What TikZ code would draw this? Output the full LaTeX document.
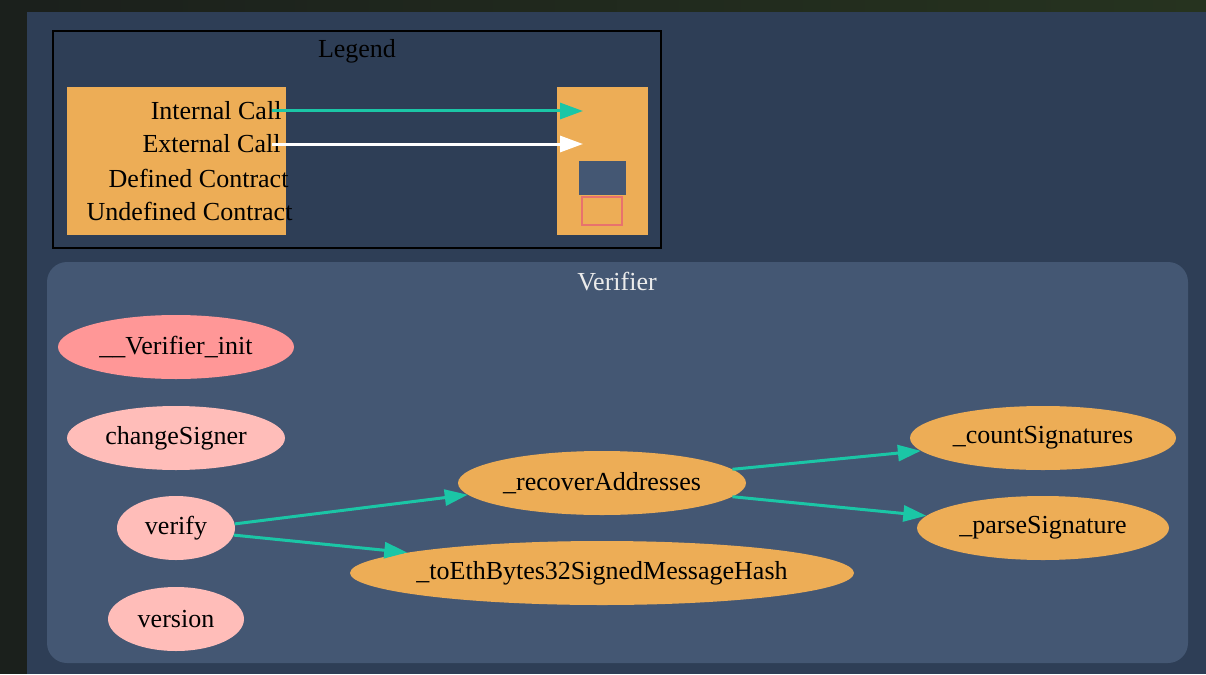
\documentclass[tikz,border=0pt]{standalone}
\usepackage{fontspec}
\setmainfont{Liberation Serif}
\usetikzlibrary{arrows.meta,shapes.geometric}

\definecolor{bgdark}{HTML}{1B201C}
\definecolor{bgtop}{HTML}{26331F}
\definecolor{bgmain}{HTML}{2E3E56}
\definecolor{cluster}{HTML}{445773}
\definecolor{callteal}{HTML}{1BC6A6}
\definecolor{intfn}{HTML}{EDAD56}
\definecolor{pubfn}{HTML}{FFBDB9}
\definecolor{initfn}{HTML}{FF9797}
\definecolor{undef}{HTML}{E8726D}

\begin{document}
\begin{tikzpicture}[x=1pt, y=-1pt,
  every node/.style={font=\fontsize{26}{30}\selectfont},
  fn/.style={ellipse, inner xsep=-10pt, inner ysep=0pt, minimum height=64pt},
  call/.style={-{Triangle[length=23pt,width=16pt]}, line width=3pt, callteal}]
% Background
\fill[bgdark] (0,0) rectangle (1206,674);
\shade[left color=bgdark, right color=bgtop] (27,0) rectangle (1206,12);
\fill[bgmain] (27,12) rectangle (1206,674);

% Legend box
\draw[black, line width=1.5pt] (53,31) rectangle (661,248);
\node (legend) at (357,51) {Legend};
\fill[intfn] (67,87) rectangle (286,235);
\fill[intfn] (557,87) rectangle (648,235);
\node[anchor=east] (lint) at (285,111) {Internal Call};
\node[anchor=east] (lext) at (284,144) {External Call};
\node[anchor=east] (ldef) at (292,178) {Defined Contract};
\node[anchor=east] (lundef) at (296,211) {Undefined Contract};
\fill[cluster] (579,161) rectangle (626,195);
\draw[undef, line width=1.5pt] (582,197) rectangle (622,225);

% Legend arrows
\coordinate (inta) at (272,111);
\coordinate (intb) at (583,111);
\coordinate (exta) at (272,144);
\coordinate (extb) at (583,144);
\draw[call] (inta) -- (intb);
\draw[call, white] (exta) -- (extb);

% Contract cluster
\fill[cluster, rounded corners=20pt] (47,262) rectangle (1188,663);
\node[text=white!92!black] (verifier) at (617,282) {Verifier};

% Public functions
\node[fn, fill=initfn, minimum width=236pt] (init) at (176,347) {\_\_Verifier\_init};
\node[fn, fill=pubfn, minimum width=218pt] (signer) at (176,438) {changeSigner};
\node[fn, fill=pubfn, minimum width=118pt] (verify) at (176,528) {verify};
\node[fn, fill=pubfn, minimum width=136pt] (version) at (176,619) {version};

% Internal functions
\node[fn, fill=intfn, minimum width=288pt] (recover) at (602,483) {\_recoverAddresses};
\node[fn, fill=intfn, minimum width=504pt] (toeth) at (602,573) {\_toEthBytes32SignedMessageHash};
\node[fn, fill=intfn, minimum width=266pt] (count) at (1043,438) {\_countSignatures};
\node[fn, fill=intfn, minimum width=252pt] (parse) at (1043,528) {\_parseSignature};

% Internal calls
\draw[call] (verify.4) -- (recover.185);
\draw[call] (verify.-7) -- (toeth.174);
\draw[call] (recover.6) -- (count.186);
\draw[call] (recover.-6) -- (parse.174);
\end{tikzpicture}
\end{document}
